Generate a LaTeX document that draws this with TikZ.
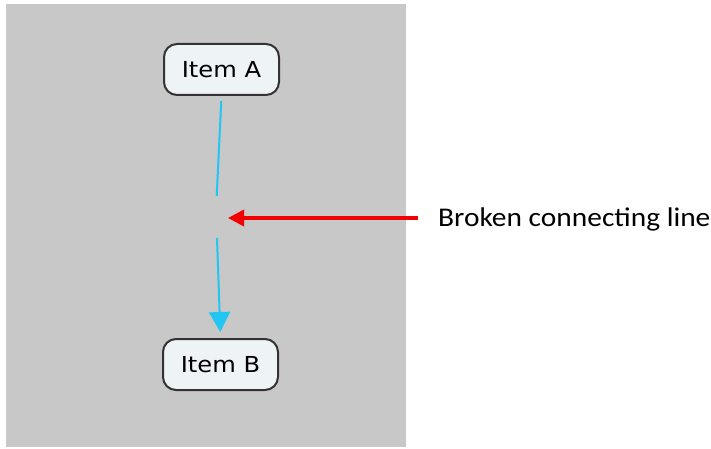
\documentclass[tikz,border=0pt]{standalone}
\usepackage{fontspec}
\setmainfont{Carlito}
\newfontfamily\itemfont{DejaVu Sans}
\usetikzlibrary{arrows.meta}
\definecolor{panelgray}{HTML}{C8C8C8}
\definecolor{itemfill}{HTML}{EEF3F5}
\definecolor{itemdraw}{HTML}{333333}
\definecolor{linkcyan}{HTML}{22C6F2}
\definecolor{calloutred}{HTML}{F00000}
% slightly widened lettering
\newcommand{\widetext}[2]{\scalebox{#1}[1]{#2}}
\tikzset{
  item/.style={draw=itemdraw, line width=2pt, fill=itemfill, rounded corners=13pt,
    minimum width=115pt, minimum height=51pt, inner sep=0pt,
    font=\itemfont\fontsize{22}{26}\selectfont},
  link/.style={draw=linkcyan, line width=2pt},
  linktip/.style={link, -{Triangle[length=20pt,width=21pt]}},
  callout/.style={draw=calloutred, line width=3.5pt, -{Triangle[length=16pt,width=16pt]}},
  note/.style={inner sep=0pt, font=\fontsize{27}{32}\selectfont}
}
\begin{document}
\begin{tikzpicture}[x=1pt, y=-1pt]
  \useasboundingbox (0,0) rectangle (711,449);
  % grey canvas
  \fill[panelgray] (6,4) rectangle (406,447);

  % concept boxes
  \node[item] (A) at (221.5,69.5) {\widetext{1.1}{Item A}};
  \node[item] (B) at (220.5,364.5) {\widetext{1.1}{Item B}};

  % link from A to B, with its gap
  \coordinate (gapTop) at (216.7,196);
  \coordinate (gapBot) at (217,238);
  \draw[link, shorten <=5pt] (A.south) -- (gapTop);
  \draw[linktip, shorten >=6pt] (gapBot) -- (B.north);

  % callout
  \node[note, anchor=base west] (lbl) at (438,226) {\widetext{1.09}{Broken connecting line}};
  \coordinate (tail) at (418,218);
  \coordinate (gapMid) at (228,218);
  \draw[callout] (tail) -- (gapMid);
\end{tikzpicture}
\end{document}
